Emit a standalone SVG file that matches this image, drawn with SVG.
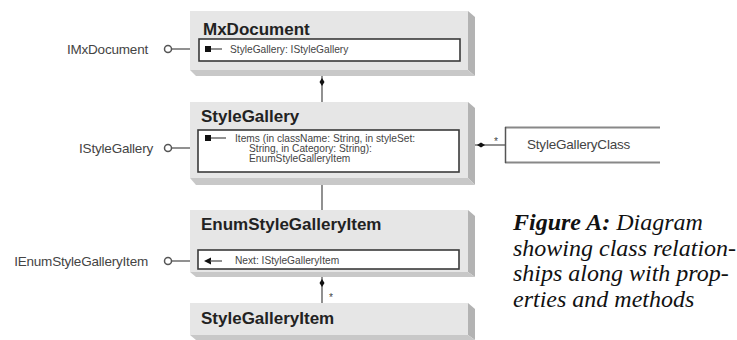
<svg xmlns="http://www.w3.org/2000/svg" width="737" height="340" viewBox="0 0 737 340">
<defs>
<style>
.face{fill:#e6e6e6}
.side{fill:#b3b3b3}
.bot{fill:#c8c8c8}
.inner{fill:#fff;stroke:#3a3a3a;stroke-width:1.6}
.title{font-family:"Liberation Sans",Arial,sans-serif;font-weight:bold;font-size:17px;fill:#222}
.small{font-family:"Liberation Sans",Arial,sans-serif;font-size:10.2px;fill:#444}
.lbl{font-family:"Liberation Sans",Arial,sans-serif;font-size:13.5px;fill:#444;letter-spacing:-0.2px}
.ln{stroke:#555;stroke-width:1.3;fill:none}
.lolly{fill:#fff;stroke:#555;stroke-width:1.5}
.dia{fill:#111}
.cap{font-family:"Liberation Serif","Times New Roman",serif;font-size:24px;font-style:italic;fill:#111}
</style>
</defs>

<g id="connectors">
  <line class="ln" x1="322" y1="76" x2="322" y2="102"/>
  <polygon class="dia" points="322,78 324.5,82 322,86 319.5,82"/>
  <line class="ln" x1="322" y1="185" x2="322" y2="210"/>
  <line class="ln" x1="322" y1="277" x2="322" y2="303"/>
  <polygon class="dia" points="322,279 324.5,283 322,287 319.5,283"/>
  <text class="small" x="329" y="301">*</text>
  <line class="ln" x1="475" y1="145" x2="505" y2="145"/>
  <polygon class="dia" points="477,145 481,142.5 485,145 481,147.5"/>
  <text class="small" x="494" y="145">*</text>
  <line class="ln" x1="171.5" y1="49" x2="199" y2="49"/>
  <circle class="lolly" cx="168" cy="49" r="3.5"/>
  <line class="ln" x1="171.5" y1="148" x2="198" y2="148"/>
  <circle class="lolly" cx="168" cy="148" r="3.5"/>
  <line class="ln" x1="171.5" y1="261" x2="190" y2="261"/>
  <circle class="lolly" cx="168" cy="261" r="3.5"/>
</g>

<g id="IMxDocument"><text class="lbl" x="148" y="54" text-anchor="end">IMxDocument</text></g>
<g id="IStyleGallery"><text class="lbl" x="153" y="153" text-anchor="end">IStyleGallery</text></g>
<g id="IEnumStyleGalleryItem"><text class="lbl" x="148" y="266" text-anchor="end">IEnumStyleGalleryItem</text></g>

<g id="MxDocument">
  <polygon class="side" points="468,11 475,17 475,76 468,70"/>
  <polygon class="bot" points="190,70 468,70 475,76 196,76"/>
  <rect class="face" x="190" y="11" width="278" height="59"/>
  <text class="title" x="203" y="35">MxDocument</text>
  <rect class="inner" x="199" y="39" width="261" height="22"/>
  <rect x="205" y="46" width="6" height="6" fill="#111"/>
  <line class="ln" x1="211" y1="49" x2="222" y2="49"/>
  <text class="small" x="230" y="53">StyleGallery: IStyleGallery</text>
</g>

<g id="StyleGallery">
  <polygon class="side" points="468,102 475,108 475,185 468,178"/>
  <polygon class="bot" points="190,178 468,178 475,185 196,185"/>
  <rect class="face" x="190" y="102" width="278" height="76"/>
  <text class="title" x="201" y="122">StyleGallery</text>
  <rect class="inner" x="198" y="130" width="261" height="42"/>
  <rect x="205" y="135" width="6" height="6" fill="#111"/>
  <line class="ln" x1="211" y1="138" x2="226" y2="138"/>
  <text class="small" x="235" y="142">Items (in className: String, in styleSet:</text>
  <text class="small" x="249" y="152">String, in Category: String):</text>
  <text class="small" x="249" y="162">EnumStyleGalleryItem</text>
</g>

<g id="StyleGalleryClass">
  <rect x="505" y="127" width="160" height="36" fill="#fff"/>
  <line x1="505" y1="127.5" x2="660" y2="127.5" stroke="#888" stroke-width="2"/>
  <line x1="505" y1="162.5" x2="660" y2="162.5" stroke="#888" stroke-width="2"/>
  <line x1="505.5" y1="127" x2="505.5" y2="163" stroke="#555" stroke-width="1.5"/>
  <text class="lbl" x="527" y="149">StyleGalleryClass</text>
</g>

<g id="EnumStyleGalleryItem">
  <polygon class="side" points="468,210 475,216 475,277 468,272"/>
  <polygon class="bot" points="190,272 468,272 475,277 196,277"/>
  <rect class="face" x="190" y="210" width="278" height="62"/>
  <text class="title" x="201" y="230">EnumStyleGalleryItem</text>
  <rect class="inner" x="198" y="250" width="261" height="19"/>
  <polygon points="204,261 211,257.5 211,264.5" fill="#111"/>
  <line class="ln" x1="210" y1="261" x2="222" y2="261"/>
  <text class="small" x="235" y="264">Next: IStyleGalleryItem</text>
</g>

<g id="StyleGalleryItem">
  <polygon class="side" points="468,303 475,309 475,340 468,335"/>
  <polygon class="bot" points="190,335 468,335 475,340 196,340"/>
  <rect class="face" x="190" y="303" width="278" height="32"/>
  <text class="title" x="201" y="324">StyleGalleryItem</text>
</g>

<g id="caption">
  <text class="cap" x="513" y="230"><tspan font-weight="bold">Figure A:</tspan> Diagram</text>
  <text class="cap" x="513" y="256">showing class relation-</text>
  <text class="cap" x="513" y="281">ships along with prop-</text>
  <text class="cap" x="513" y="307">erties and methods</text>
</g>
</svg>
